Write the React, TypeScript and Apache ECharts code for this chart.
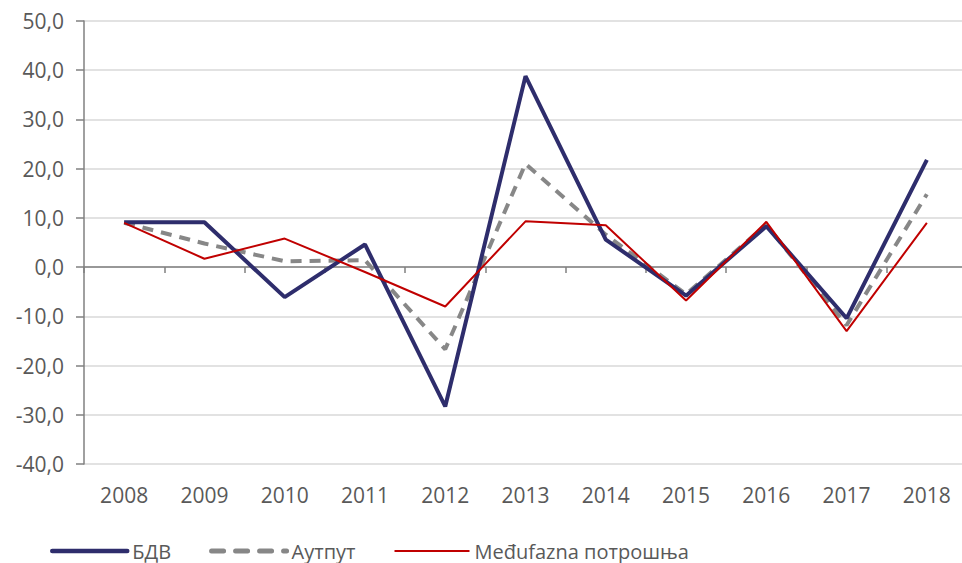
import React, { useEffect, useRef } from "react";
import * as echarts from "echarts";

const years = ["2008", "2009", "2010", "2011", "2012", "2013", "2014", "2015", "2016", "2017", "2018"];
const bdv = [9.1, 9.1, -6.1, 4.6, -28.3, 38.8, 5.6, -5.8, 8.3, -10.4, 21.8];
const output = [9.0, 4.8, 1.2, 1.4, -16.7, 21.0, 6.6, -5.5, 8.6, -11.8, 14.8];
const intermediate = [9.0, 1.7, 5.8, -1.0, -8.0, 9.3, 8.5, -6.8, 9.2, -13.0, 9.0];
const seriesNames = ["БДВ", "Аутпут", "Međufazna потрошња"];

const FONT = "'Open Sans', sans-serif";
const TEXT = "#595959";

export default function App() {
  const ref = useRef<HTMLDivElement>(null);
  useEffect(() => {
    if (!ref.current) return;
    const chart = echarts.init(ref.current, undefined, { renderer: "svg" });
    chart.setOption({
      animation: false,
      grid: { left: 84, right: -5, top: 21, bottom: 99, containLabel: false, outerBoundsMode: "none" },
      legend: {
        left: 45,
        top: 536,
        itemWidth: 75,
        itemHeight: 20,
        itemGap: 38,
        itemStyle: { opacity: 0 },
        textStyle: { color: TEXT, fontSize: 20, fontFamily: FONT },
        data: [
          { name: seriesNames[0], lineStyle: { width: 4.5, cap: "round" } },
          { name: seriesNames[1], lineStyle: { width: 5, type: [12, 12], cap: "round" } },
          { name: seriesNames[2], lineStyle: { width: 2 } },
        ],
      },
      xAxis: [
        {
          type: "category",
          data: years,
          boundaryGap: true,
          position: "bottom",
          axisLine: { onZero: true, lineStyle: { color: "#808080", width: 1.5 } },
          axisTick: { show: true, length: 6, alignWithLabel: false, lineStyle: { color: "#808080", width: 1.5 } },
          axisLabel: { show: false },
          splitLine: { show: false },
        },
        {
          type: "category",
          data: years,
          boundaryGap: true,
          position: "bottom",
          axisLine: { show: false, onZero: false },
          axisTick: { show: false },
          axisLabel: { margin: 20, color: TEXT, fontSize: 21, fontFamily: FONT },
          splitLine: { show: false },
        },
      ],
      yAxis: {
        type: "value",
        min: -40,
        max: 50,
        interval: 10,
        axisLine: { show: true, lineStyle: { color: "#808080", width: 1.5 } },
        axisTick: { show: true, length: 8, lineStyle: { color: "#808080", width: 1.5 } },
        axisLabel: {
          margin: 20,
          color: TEXT,
          fontSize: 21,
          fontFamily: FONT,
          formatter: (v: number) => v.toFixed(1).replace(".", ","),
        },
        splitLine: { show: true, lineStyle: { color: "#D9D9D9", width: 1.5 } },
      },
      series: [
        {
          name: seriesNames[0],
          type: "line",
          data: bdv,
          symbol: "none",
          z: 3,
          itemStyle: { color: "#2E2D6C" },
          lineStyle: { color: "#2E2D6C", width: 4 },
        },
        {
          name: seriesNames[1],
          type: "line",
          data: output,
          symbol: "none",
          z: 2,
          itemStyle: { color: "#878787" },
          lineStyle: { color: "#878787", width: 4, type: [11, 8] },
        },
        {
          name: seriesNames[2],
          type: "line",
          data: intermediate,
          symbol: "none",
          z: 4,
          itemStyle: { color: "#C00000" },
          lineStyle: { color: "#C00000", width: 2 },
        },
      ],
    });
    return () => chart.dispose();
  }, []);
  return <div ref={ref} style={{ width: 962, height: 563, position: "absolute", left: 0, top: 0 }} />;
}
